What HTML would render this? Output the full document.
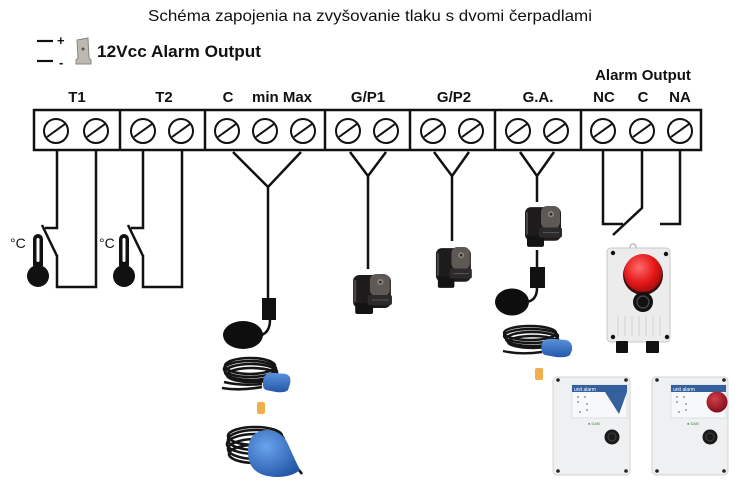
<!DOCTYPE html>
<html>
<head>
<meta charset="utf-8">
<style>
html,body{margin:0;padding:0;background:#fff;}
svg{display:block;}
text{font-family:"Liberation Sans",Arial,sans-serif;}
</style>
</head>
<body>
<svg width="742" height="485" viewBox="0 0 742 485" xmlns="http://www.w3.org/2000/svg">
<defs>
  <g id="psw">
    <rect x="2" y="4" width="36" height="33" rx="6" fill="#1d1b1b"/>
    <rect x="4" y="32" width="17" height="11" rx="2" fill="#141313"/>
    <rect x="3" y="9" width="2" height="22" fill="#4a4848"/>
    <rect x="18" y="3" width="19" height="22" rx="6" fill="#5f5955"/>
    <circle cx="28" cy="11" r="3" fill="#8a837d"/>
    <circle cx="28" cy="11" r="1.3" fill="#2a2828"/>
    <rect x="16" y="24" width="23" height="10" rx="2" fill="#2c2a2a"/>
    <line x1="20" y1="29" x2="36" y2="29" stroke="#555" stroke-width="1"/>
  </g>
  <radialGradient id="red" cx="0.4" cy="0.35" r="0.7">
    <stop offset="0" stop-color="#ff6a6a"/>
    <stop offset="0.6" stop-color="#e41818"/>
    <stop offset="1" stop-color="#a00c0c"/>
  </radialGradient>
  <radialGradient id="red2" cx="0.4" cy="0.35" r="0.7">
    <stop offset="0" stop-color="#d0404a"/>
    <stop offset="1" stop-color="#800c18"/>
  </radialGradient>
  <linearGradient id="blue" x1="0" y1="0" x2="0" y2="1">
    <stop offset="0" stop-color="#5a92dc"/>
    <stop offset="1" stop-color="#2358a8"/>
  </linearGradient>
  <radialGradient id="blue2" cx="0.35" cy="0.35" r="0.75">
    <stop offset="0" stop-color="#6aa2ec"/>
    <stop offset="1" stop-color="#2256a6"/>
  </radialGradient>
</defs>

<!-- Title -->
<text x="148" y="21" font-size="16" textLength="444" lengthAdjust="spacingAndGlyphs" fill="#111">Schéma zapojenia na zvyšovanie tlaku s dvomi čerpadlami</text>

<!-- 12Vcc header -->
<line x1="37" y1="41" x2="53" y2="41" stroke="#111" stroke-width="2.2"/>
<line x1="37" y1="61" x2="53" y2="61" stroke="#111" stroke-width="2.2"/>
<text x="57" y="45" font-size="13" font-weight="bold" fill="#111">+</text>
<text x="59" y="67" font-size="13" font-weight="bold" fill="#111">-</text>
<path d="M77,40 L88,38 L89,58 L91,60 L91,64 L76,64 L76,60 L78,58 Z" fill="#bdb9b0" stroke="#8a867e" stroke-width="1"/>
<circle cx="83" cy="49" r="1.5" fill="#555"/>
<text x="97" y="57" font-size="17" font-weight="bold" textLength="164" lengthAdjust="spacingAndGlyphs" fill="#111">12Vcc Alarm Output</text>

<!-- Terminal labels -->
<g font-size="15" font-weight="bold" fill="#111" text-anchor="middle">
  <text x="643" y="80">Alarm Output</text>
  <text x="77" y="102">T1</text>
  <text x="164" y="102">T2</text>
  <text x="228" y="102">C</text>
  <text x="282" y="102">min Max</text>
  <text x="368" y="102">G/P1</text>
  <text x="454" y="102">G/P2</text>
  <text x="538" y="102">G.A.</text>
  <text x="604" y="102">NC</text>
  <text x="643" y="102">C</text>
  <text x="680" y="102">NA</text>
</g>

<!-- Terminal strip -->
<rect x="34" y="110" width="667" height="40" fill="#fff" stroke="#111" stroke-width="2.5"/>
<g stroke="#111" stroke-width="2.5">
  <line x1="120" y1="110" x2="120" y2="150"/>
  <line x1="205" y1="110" x2="205" y2="150"/>
  <line x1="325" y1="110" x2="325" y2="150"/>
  <line x1="410" y1="110" x2="410" y2="150"/>
  <line x1="495" y1="110" x2="495" y2="150"/>
  <line x1="581" y1="110" x2="581" y2="150"/>
</g>
<g fill="none" stroke="#111" stroke-width="2">
  <g id="scr"><circle cx="56" cy="131" r="12"/><line x1="47" y1="137" x2="65" y2="124"/></g>
  <use href="#scr" x="40"/>
  <use href="#scr" x="87"/>
  <use href="#scr" x="125"/>
  <use href="#scr" x="171"/>
  <use href="#scr" x="209"/>
  <use href="#scr" x="247"/>
  <use href="#scr" x="292"/>
  <use href="#scr" x="330"/>
  <use href="#scr" x="377"/>
  <use href="#scr" x="415"/>
  <use href="#scr" x="462"/>
  <use href="#scr" x="500"/>
  <use href="#scr" x="547"/>
  <use href="#scr" x="586"/>
  <use href="#scr" x="624"/>
</g>

<!-- Wires -->
<g fill="none" stroke="#111" stroke-width="2.5" stroke-linejoin="miter">
  <polyline points="57,151 57,228 45,228"/>
  <line x1="42" y1="225" x2="57" y2="256"/>
  <polyline points="57,255 57,287 96,287 96,151"/>
  <polyline points="143,151 143,228 131,228"/>
  <line x1="128" y1="225" x2="143" y2="256"/>
  <polyline points="143,255 143,287 182,287 182,151"/>
  <polyline points="233,152 268,187 301,152"/>
  <line x1="268" y1="187" x2="268" y2="300"/>
  <polyline points="350,152 368,176 386,152"/>
  <line x1="368" y1="176" x2="368" y2="269"/>
  <polyline points="434,152 452,176 469,152"/>
  <line x1="452" y1="176" x2="452" y2="241"/>
  <polyline points="520,152 537,176 554,152"/>
  <line x1="537" y1="176" x2="537" y2="202"/>
  <line x1="537" y1="250" x2="537" y2="268"/>
  <polyline points="603,151 603,224 623,224"/>
  <polyline points="680,151 680,224 660,224"/>
  <polyline points="642,151 642,208 613,235"/>
</g>

<!-- Thermometers -->
<g fill="#111">
  <rect x="33" y="234" width="10" height="36" rx="5"/>
  <circle cx="38" cy="276" r="11"/>
  <rect x="119" y="234" width="10" height="36" rx="5"/>
  <circle cx="124" cy="276" r="11"/>
</g>
<g fill="#fff">
  <rect x="36.5" y="238" width="3" height="24" rx="1.5"/>
  <rect x="122.5" y="238" width="3" height="24" rx="1.5"/>
</g>
<g font-size="14" fill="#111">
  <text x="10" y="248">°C</text>
  <text x="99" y="248">°C</text>
</g>

<!-- Float 1 (black puck) -->
<rect x="262" y="298" width="14" height="22" fill="#111"/>
<path d="M270,320 Q270,334 258,336" fill="none" stroke="#111" stroke-width="2.5"/>
<ellipse cx="243" cy="335" rx="20" ry="14" fill="#0e0e0e"/>

<!-- Coil + blue float 1 -->
<g fill="none" stroke="#151515" stroke-width="2.6">
  <ellipse cx="250" cy="366" rx="25" ry="8"/>
  <ellipse cx="250" cy="369" rx="26" ry="8"/>
  <ellipse cx="251" cy="372" rx="26" ry="8"/>
  <ellipse cx="252" cy="375" rx="25" ry="7"/>
  <path d="M224,382 Q240,386 262,384"/>
  <path d="M222,388 Q240,391 262,387"/>
</g>
<path d="M264,377 Q266,372 276,373 L286,374 Q292,376 290,384 L288,390 Q285,393 276,392 L266,390 Q261,388 264,377 Z" fill="url(#blue)"/>
<rect x="257" y="402" width="8" height="12" rx="2" fill="#f2ad4c"/>

<!-- Coil + pear float -->
<g fill="none" stroke="#151515" stroke-width="2.6">
  <ellipse cx="255" cy="436" rx="27" ry="9"/>
  <ellipse cx="256" cy="440" rx="28" ry="10"/>
  <ellipse cx="256" cy="444" rx="29" ry="10"/>
  <ellipse cx="256" cy="449" rx="28" ry="10"/>
  <ellipse cx="255" cy="454" rx="26" ry="9"/>
  <path d="M290,462 Q298,468 302,474"/>
</g>
<path d="M248,452 Q248,430 268,430 Q282,431 288,444 Q294,458 300,470 Q292,477 276,477 Q248,476 248,452 Z" fill="url(#blue2)"/>

<!-- Pressure switches -->
<use href="#psw" transform="translate(351,271) scale(1.05,1.0)"/>
<use href="#psw" transform="translate(434,244) scale(0.97,1.02)"/>
<use href="#psw" transform="translate(523,203) scale(1.0,1.02)"/>

<!-- Float 2 -->
<rect x="530" y="267" width="15" height="21" fill="#111"/>
<path d="M537,288 Q537,300 527,302" fill="none" stroke="#111" stroke-width="2.5"/>
<ellipse cx="512" cy="302" rx="17" ry="13.5" fill="#0e0e0e"/>

<!-- Coil + blue float 2 -->
<g fill="none" stroke="#151515" stroke-width="2.4">
  <ellipse cx="530" cy="333" rx="26" ry="7"/>
  <ellipse cx="531" cy="336" rx="27" ry="7"/>
  <ellipse cx="532" cy="339" rx="26" ry="7"/>
  <ellipse cx="533" cy="342" rx="25" ry="6"/>
  <path d="M503,351 Q520,355 542,352"/>
</g>
<path d="M542,343 Q544,338 555,339 L566,340 Q573,342 572,350 L570,355 Q566,358 556,357 L545,355 Q540,353 542,343 Z" fill="url(#blue)"/>
<rect x="535" y="368" width="8" height="12" rx="2" fill="#f2ad4c"/>

<!-- Alarm light box -->
<circle cx="633" cy="247" r="3" fill="none" stroke="#bbb" stroke-width="1.5"/>
<rect x="607" y="248" width="63" height="94" rx="4" fill="#ececec" stroke="#c8c8c8" stroke-width="1"/>
<g fill="#111">
  <circle cx="613" cy="253" r="2.2"/><circle cx="666" cy="254" r="2.2"/>
  <circle cx="613" cy="337" r="2.2"/><circle cx="667" cy="337" r="2.2"/>
</g>
<g stroke="#d2d2d2" stroke-width="1">
  <line x1="618" y1="316" x2="618" y2="336"/><line x1="625" y1="316" x2="625" y2="336"/>
  <line x1="632" y1="316" x2="632" y2="336"/><line x1="639" y1="316" x2="639" y2="336"/>
  <line x1="646" y1="316" x2="646" y2="336"/><line x1="653" y1="316" x2="653" y2="336"/>
  <line x1="660" y1="316" x2="660" y2="336"/>
</g>
<circle cx="643" cy="275" r="20" fill="#3a1010"/>
<circle cx="643" cy="273" r="19" fill="url(#red)"/>
<circle cx="643" cy="302" r="10" fill="#111"/>
<circle cx="643" cy="302" r="6" fill="none" stroke="#444" stroke-width="1.5"/>
<rect x="616" y="341" width="12" height="12" rx="1" fill="#111"/>
<rect x="646" y="341" width="13" height="12" rx="1" fill="#111"/>

<!-- Control box 1 -->
<rect x="553" y="377" width="77" height="98" rx="4" fill="#eef0f1" stroke="#cfd3d6" stroke-width="1"/>
<rect x="572" y="385" width="55" height="33" fill="#f7f8f9" stroke="#d8dcdf" stroke-width="0.8"/>
<rect x="572" y="385" width="55" height="7" fill="#34609e"/>
<text x="574" y="391" font-size="5" fill="#fff">unit alarm</text>
<path d="M605,392 L627,392 L619,414 Z" fill="#34609e"/>
<g fill="#999"><circle cx="578" cy="397" r="1"/><circle cx="585" cy="397" r="1"/><circle cx="578" cy="402" r="1"/><circle cx="587" cy="404" r="1"/><circle cx="587" cy="410" r="1"/><circle cx="580" cy="412" r="1"/></g>
<text x="588" y="425" font-size="4" fill="#3a8a3a">● DAB</text>
<circle cx="612" cy="437" r="7.5" fill="#1a1a1a"/>
<circle cx="612" cy="437" r="4" fill="none" stroke="#444" stroke-width="1"/>
<g fill="#222"><circle cx="558" cy="380" r="1.8"/><circle cx="626" cy="380" r="1.8"/><circle cx="558" cy="471" r="1.8"/><circle cx="626" cy="471" r="1.8"/></g>

<!-- Control box 2 -->
<rect x="652" y="377" width="76" height="98" rx="4" fill="#eef0f1" stroke="#cfd3d6" stroke-width="1"/>
<rect x="671" y="385" width="55" height="33" fill="#f7f8f9" stroke="#d8dcdf" stroke-width="0.8"/>
<rect x="671" y="385" width="55" height="7" fill="#34609e"/>
<text x="673" y="391" font-size="5" fill="#fff">unit alarm</text>
<g fill="#999"><circle cx="677" cy="397" r="1"/><circle cx="684" cy="397" r="1"/><circle cx="677" cy="402" r="1"/><circle cx="686" cy="404" r="1"/><circle cx="686" cy="410" r="1"/><circle cx="679" cy="412" r="1"/></g>
<circle cx="717" cy="402" r="10.5" fill="url(#red2)"/>
<text x="687" y="425" font-size="4" fill="#3a8a3a">● DAB</text>
<circle cx="710" cy="437" r="7.5" fill="#1a1a1a"/>
<circle cx="710" cy="437" r="4" fill="none" stroke="#444" stroke-width="1"/>
<g fill="#222"><circle cx="657" cy="380" r="1.8"/><circle cx="724" cy="380" r="1.8"/><circle cx="657" cy="471" r="1.8"/><circle cx="724" cy="471" r="1.8"/></g>
</svg>
</body>
</html>
